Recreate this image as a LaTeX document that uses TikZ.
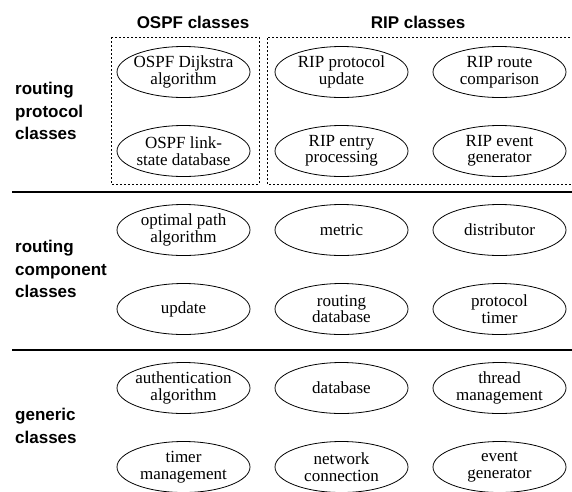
\documentclass[tikz,border=0pt]{standalone}
\usepackage{fontspec}
\setmainfont{Liberation Serif}
\setsansfont{Liberation Sans}
\usetikzlibrary{shapes.geometric}

\begin{document}
\begin{tikzpicture}[x=1pt, y=-1pt,
  cls/.style={ellipse, draw, line width=0.8pt, minimum width=133pt,
    minimum height=51pt, inner xsep=-3pt, inner ysep=0pt, align=center,
    font=\fontsize{17}{16.5}\selectfont},
  hdr/.style={font=\sffamily\bfseries\fontsize{17}{22.5}\selectfont},
  grp/.style={hdr, align=left, anchor=west, inner sep=0pt},
  sep/.style={line width=2.6pt},
  frame/.style={dash pattern=on 2pt off 2pt, line width=0.7pt}]
\useasboundingbox (0,0) rectangle (572,491);

% column headers
\node[hdr] (hospf) at (193,22) {OSPF classes};
\node[hdr] (hrip)  at (418,22) {RIP classes};

% dashed group frames
\draw[frame] (111,37) rectangle (259,184);
\draw[frame] (574,37) -- (267,37) -- (267,184) -- (574,184);

% layer separators
\coordinate (s1a) at (12,192);  \coordinate (s1b) at (572,192);
\coordinate (s2a) at (12,350);  \coordinate (s2b) at (572,350);
\draw[sep] (s1a) -- (s1b);
\draw[sep] (s2a) -- (s2b);

% layer labels
\node[grp] (lproto) at (15,111) {routing\\protocol\\classes};
\node[grp] (lcomp)  at (15,269) {routing\\component\\classes};
\node[grp] (lgen)   at (15,426) {generic\\classes};

% routing protocol classes
\node[cls] (ospfd) at (183.5,72)  {OSPF Dijkstra\\algorithm};
\node[cls] (ospfl) at (183.5,151) {OSPF link-\\state database};
\node[cls] (ripu)  at (341.5,72)  {RIP protocol\\update};
\node[cls] (ripc)  at (499.5,72)  {RIP route\\comparison};
\node[cls] (ripe)  at (341.5,151) {RIP entry\\processing};
\node[cls] (ripg)  at (499.5,151) {RIP event\\generator};

% routing component classes
\node[cls] (opt)   at (183.5,230) {optimal path\\algorithm};
\node[cls] (met)   at (341.5,230) {metric};
\node[cls] (dist)  at (499.5,230) {distributor};
\node[cls] (upd)   at (183.5,309) {update};
\node[cls] (rdb)   at (341.5,309) {routing\\database};
\node[cls] (ptim)  at (499.5,309) {protocol\\timer};

% generic classes
\node[cls] (auth)  at (183.5,388) {authentication\\algorithm};
\node[cls] (db)    at (341.5,388) {database};
\node[cls] (thr)   at (499.5,388) {thread\\management};
\node[cls] (tim)   at (183.5,467) {timer\\management};
\node[cls] (net)   at (341.5,467) {network\\connection};
\node[cls] (evg)   at (499.5,467) {event\\generator};
\end{tikzpicture}
\end{document}
